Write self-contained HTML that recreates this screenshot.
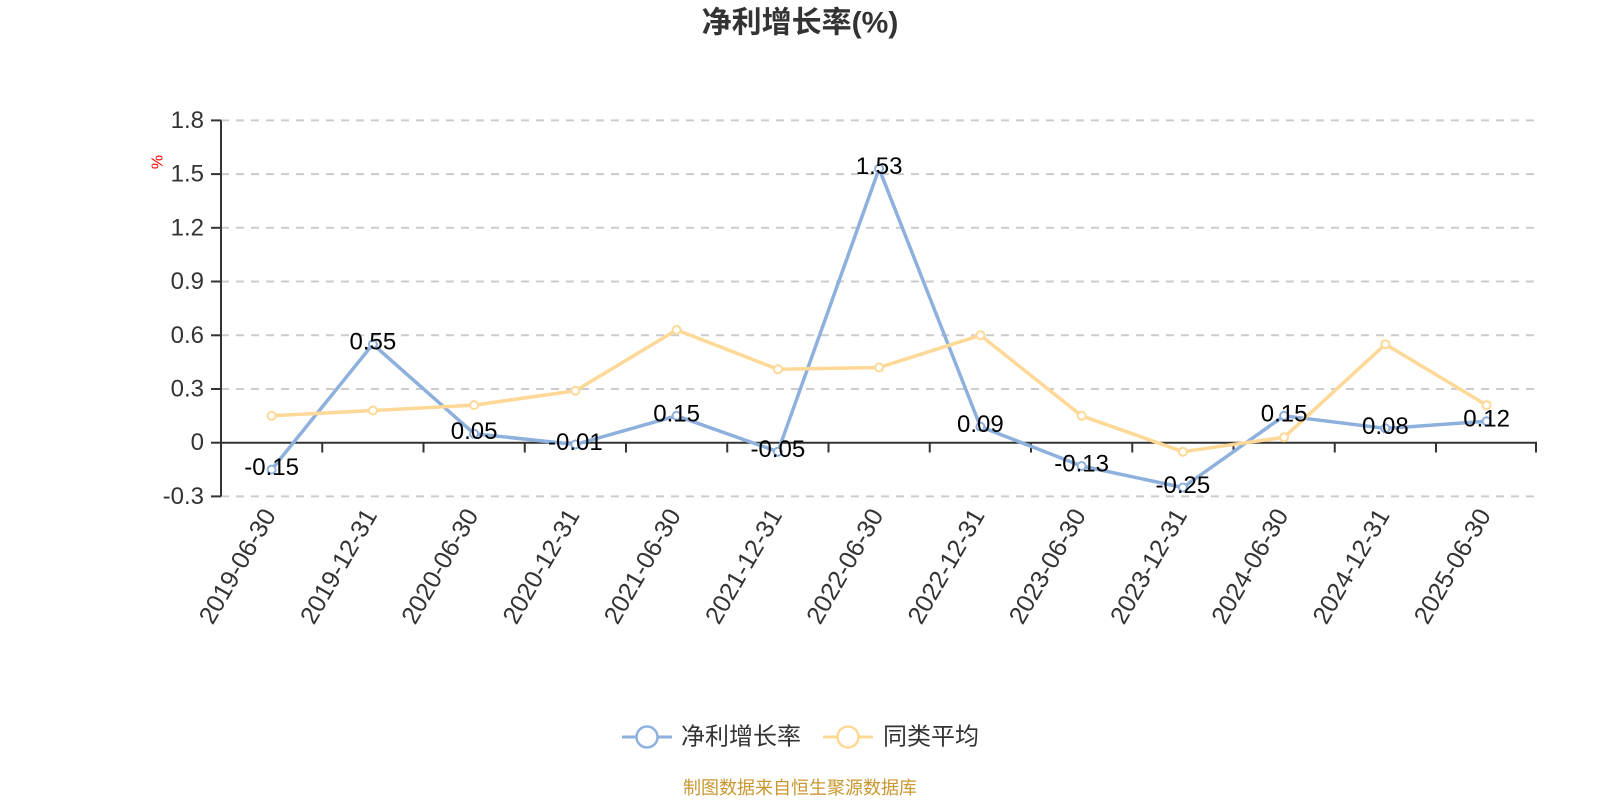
<!DOCTYPE html>
<html>
<head>
<meta charset="utf-8">
<style>
  html, body { margin:0; padding:0; background:#ffffff; }
  body { width:1600px; height:800px; overflow:hidden; }
  svg { display:block; font-family:"Liberation Sans","Noto Sans CJK SC",sans-serif; }
</style>
</head>
<body>
<svg width="1600" height="800" viewBox="0 0 1600 800" xmlns="http://www.w3.org/2000/svg">
  <rect width="1600" height="800" fill="#ffffff"/>

  <!-- Title -->
  <text x="800" y="23" text-anchor="middle" dominant-baseline="central" font-size="30" font-weight="bold" fill="#333333" font-family="'Liberation Sans','Noto Sans CJK SC',sans-serif">净利增长率(%)</text>

  <!-- Grid lines (dashed) -->
  <g stroke="#cccccc" stroke-width="2" stroke-dasharray="8,7" fill="none">
    <line x1="221" y1="120.4" x2="1537" y2="120.4"/>
    <line x1="221" y1="174.1" x2="1537" y2="174.1"/>
    <line x1="221" y1="227.8" x2="1537" y2="227.8"/>
    <line x1="221" y1="281.5" x2="1537" y2="281.5"/>
    <line x1="221" y1="335.3" x2="1537" y2="335.3"/>
    <line x1="221" y1="389.0" x2="1537" y2="389.0"/>
    <line x1="221" y1="496.4" x2="1537" y2="496.4"/>
  </g>

  <!-- Y axis -->
  <g stroke="#333333" stroke-width="2">
    <line x1="221" y1="120.4" x2="221" y2="496.4"/>
    <line x1="211" y1="120.4" x2="221" y2="120.4"/>
    <line x1="211" y1="174.1" x2="221" y2="174.1"/>
    <line x1="211" y1="227.8" x2="221" y2="227.8"/>
    <line x1="211" y1="281.5" x2="221" y2="281.5"/>
    <line x1="211" y1="335.3" x2="221" y2="335.3"/>
    <line x1="211" y1="389.0" x2="221" y2="389.0"/>
    <line x1="211" y1="442.7" x2="221" y2="442.7"/>
    <line x1="211" y1="496.4" x2="221" y2="496.4"/>
  </g>
  <g font-size="24" fill="#333333" text-anchor="end" dominant-baseline="central">
    <text x="204" y="120.4">1.8</text>
    <text x="204" y="174.1">1.5</text>
    <text x="204" y="227.8">1.2</text>
    <text x="204" y="281.5">0.9</text>
    <text x="204" y="335.3">0.6</text>
    <text x="204" y="389.0">0.3</text>
    <text x="204" y="442.7">0</text>
    <text x="204" y="496.4">-0.3</text>
  </g>
  <!-- unit label -->
  <text x="158" y="162" transform="rotate(-90 158 162)" text-anchor="middle" dominant-baseline="central" font-size="16" fill="#ff0000">%</text>

  <!-- X axis at zero -->
  <g stroke="#333333" stroke-width="2">
    <line x1="220" y1="442.7" x2="1537" y2="442.7"/>
    <line x1="322.25" y1="442.7" x2="322.25" y2="452.5"/>
    <line x1="423.5" y1="442.7" x2="423.5" y2="452.5"/>
    <line x1="524.75" y1="442.7" x2="524.75" y2="452.5"/>
    <line x1="626" y1="442.7" x2="626" y2="452.5"/>
    <line x1="727.25" y1="442.7" x2="727.25" y2="452.5"/>
    <line x1="828.5" y1="442.7" x2="828.5" y2="452.5"/>
    <line x1="929.75" y1="442.7" x2="929.75" y2="452.5"/>
    <line x1="1031" y1="442.7" x2="1031" y2="452.5"/>
    <line x1="1132.25" y1="442.7" x2="1132.25" y2="452.5"/>
    <line x1="1233.5" y1="442.7" x2="1233.5" y2="452.5"/>
    <line x1="1334.75" y1="442.7" x2="1334.75" y2="452.5"/>
    <line x1="1436" y1="442.7" x2="1436" y2="452.5"/>
    <line x1="1536" y1="442.7" x2="1536" y2="452.5"/>
  </g>

  <!-- X labels rotated -->
  <g font-size="25" fill="#333333" text-anchor="end" dominant-baseline="central">
    <text transform="translate(269.6 511) rotate(-60)">2019-06-30</text>
    <text transform="translate(370.9 511) rotate(-60)">2019-12-31</text>
    <text transform="translate(472.1 511) rotate(-60)">2020-06-30</text>
    <text transform="translate(573.4 511) rotate(-60)">2020-12-31</text>
    <text transform="translate(674.6 511) rotate(-60)">2021-06-30</text>
    <text transform="translate(775.9 511) rotate(-60)">2021-12-31</text>
    <text transform="translate(877.1 511) rotate(-60)">2022-06-30</text>
    <text transform="translate(978.4 511) rotate(-60)">2022-12-31</text>
    <text transform="translate(1079.6 511) rotate(-60)">2023-06-30</text>
    <text transform="translate(1180.9 511) rotate(-60)">2023-12-31</text>
    <text transform="translate(1282.1 511) rotate(-60)">2024-06-30</text>
    <text transform="translate(1383.4 511) rotate(-60)">2024-12-31</text>
    <text transform="translate(1484.6 511) rotate(-60)">2025-06-30</text>
  </g>

  <!-- Blue series -->
  <polyline fill="none" stroke="#8eb0dc" stroke-width="3.5" stroke-linejoin="round"
    points="271.6,469.6 372.9,344.2 474.1,433.7 575.4,444.5 676.6,415.8 777.9,451.7 879.1,168.7 980.4,426.6 1081.6,466.0 1182.9,487.5 1284.1,415.8 1385.4,428.4 1486.6,421.2"/>
  <!-- Orange series -->
  <polyline fill="none" stroke="#fed896" stroke-width="3.5" stroke-linejoin="round"
    points="271.6,415.8 372.9,410.5 474.1,405.1 575.4,390.8 676.6,329.9 777.9,369.3 879.1,367.5 980.4,335.3 1081.6,415.8 1182.9,451.7 1284.1,437.3 1385.4,344.2 1486.6,405.1"/>

  <!-- Blue markers -->
  <g fill="#ffffff" stroke="#8eb0dc" stroke-width="2">
    <circle cx="271.6" cy="469.6" r="4"/>
    <circle cx="372.9" cy="344.2" r="4"/>
    <circle cx="474.1" cy="433.7" r="4"/>
    <circle cx="575.4" cy="444.5" r="4"/>
    <circle cx="676.6" cy="415.8" r="4"/>
    <circle cx="777.9" cy="451.7" r="4"/>
    <circle cx="879.1" cy="168.7" r="4"/>
    <circle cx="980.4" cy="426.6" r="4"/>
    <circle cx="1081.6" cy="466.0" r="4"/>
    <circle cx="1182.9" cy="487.5" r="4"/>
    <circle cx="1284.1" cy="415.8" r="4"/>
    <circle cx="1385.4" cy="428.4" r="4"/>
    <circle cx="1486.6" cy="421.2" r="4"/>
  </g>
  <!-- Orange markers -->
  <g fill="#ffffff" stroke="#fed896" stroke-width="2">
    <circle cx="271.6" cy="415.8" r="4"/>
    <circle cx="372.9" cy="410.5" r="4"/>
    <circle cx="474.1" cy="405.1" r="4"/>
    <circle cx="575.4" cy="390.8" r="4"/>
    <circle cx="676.6" cy="329.9" r="4"/>
    <circle cx="777.9" cy="369.3" r="4"/>
    <circle cx="879.1" cy="367.5" r="4"/>
    <circle cx="980.4" cy="335.3" r="4"/>
    <circle cx="1081.6" cy="415.8" r="4"/>
    <circle cx="1182.9" cy="451.7" r="4"/>
    <circle cx="1284.1" cy="437.3" r="4"/>
    <circle cx="1385.4" cy="344.2" r="4"/>
    <circle cx="1486.6" cy="405.1" r="4"/>
  </g>

  <!-- Data labels (blue series) -->
  <g font-size="24" fill="#000000" text-anchor="middle" dominant-baseline="central">
    <text x="271.6" y="467.6">-0.15</text>
    <text x="372.9" y="342.2">0.55</text>
    <text x="474.1" y="431.7">0.05</text>
    <text x="575.4" y="442.5">-0.01</text>
    <text x="676.6" y="413.8">0.15</text>
    <text x="777.9" y="449.7">-0.05</text>
    <text x="879.1" y="166.7">1.53</text>
    <text x="980.4" y="424.6">0.09</text>
    <text x="1081.6" y="464.0">-0.13</text>
    <text x="1182.9" y="485.5">-0.25</text>
    <text x="1284.1" y="413.8">0.15</text>
    <text x="1385.4" y="426.4">0.08</text>
    <text x="1486.6" y="419.2">0.12</text>
  </g>

  <!-- Legend -->
  <line x1="622" y1="737" x2="672" y2="737" stroke="#8eb0dc" stroke-width="3"/>
  <circle cx="647" cy="737" r="10.5" fill="#ffffff" stroke="#8eb0dc" stroke-width="2.5"/>
  <text x="681" y="737" dominant-baseline="central" font-size="24" fill="#333333">净利增长率</text>

  <line x1="823" y1="737" x2="873" y2="737" stroke="#fed896" stroke-width="3"/>
  <circle cx="848" cy="737" r="10.5" fill="#ffffff" stroke="#fed896" stroke-width="2.5"/>
  <text x="883" y="737" dominant-baseline="central" font-size="24" fill="#333333">同类平均</text>

  <!-- Footer -->
  <text x="800" y="788" text-anchor="middle" dominant-baseline="central" font-size="18" fill="#c9972f">制图数据来自恒生聚源数据库</text>
</svg>
</body>
</html>
